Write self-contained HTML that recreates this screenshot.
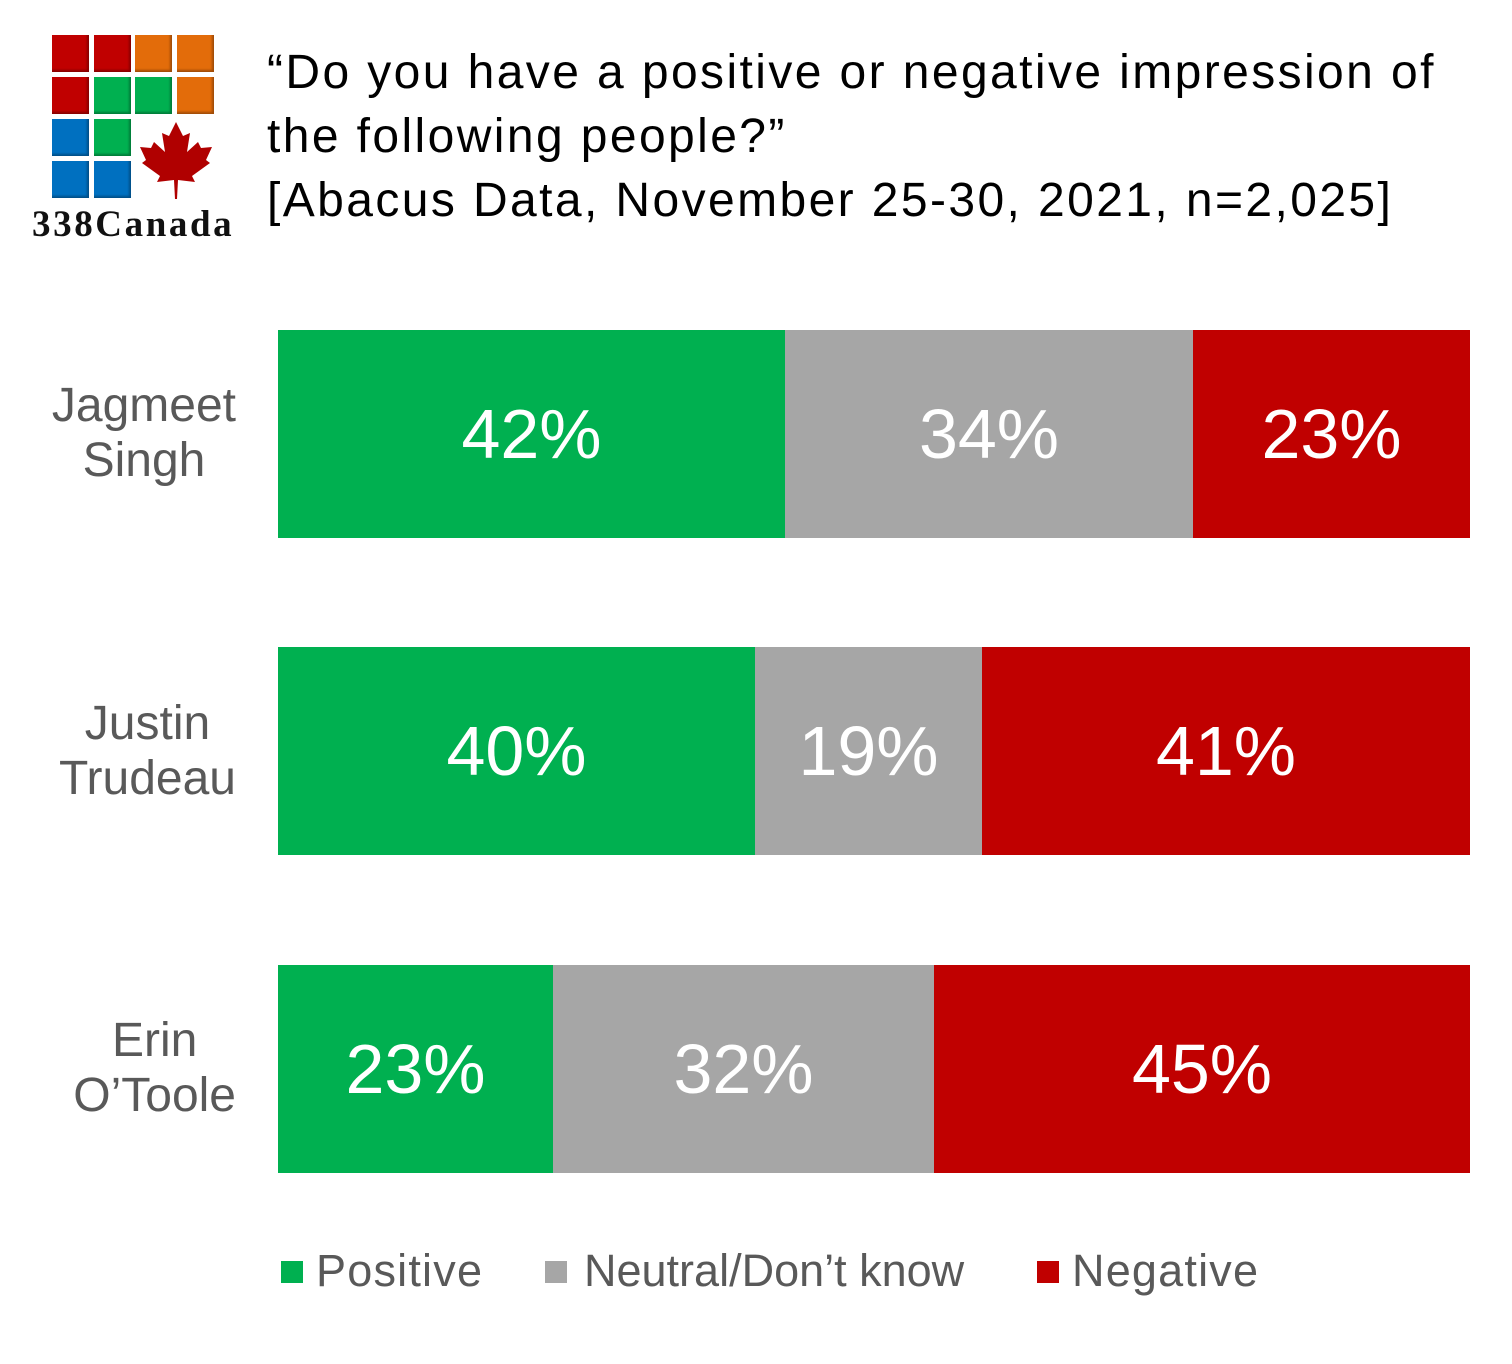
<!DOCTYPE html>
<html><head><meta charset="utf-8"><style>
body{margin:0;width:1512px;height:1364px;background:#fff;position:relative;overflow:hidden;font-family:"Liberation Sans",sans-serif}
.a{position:absolute}
.sq{position:absolute;width:37px;height:37px;box-shadow:inset -2px -2px 2px rgba(0,0,0,.3)}
.t{position:absolute;left:267px;font-size:48px;color:#000;line-height:64px;top:41px;white-space:nowrap;letter-spacing:2.4px}
.bar{position:absolute;height:208px;color:#fff;font-size:70px;display:flex;align-items:center;justify-content:center}
.nm{position:absolute;right:1276px;text-align:center;font-size:48px;color:#595959;line-height:55px}
.lg{position:absolute;top:1245px;font-size:45px;color:#595959}
.lb{position:absolute;top:1261px;width:22px;height:22px}
</style></head><body>
<div class="sq" style="left:52px;top:35px;background:#c00000"></div>
<div class="sq" style="left:94px;top:35px;background:#c00000"></div>
<div class="sq" style="left:135px;top:35px;background:#e36c0a"></div>
<div class="sq" style="left:177px;top:35px;background:#e36c0a"></div>
<div class="sq" style="left:52px;top:77px;background:#c00000"></div>
<div class="sq" style="left:94px;top:77px;background:#00b050"></div>
<div class="sq" style="left:135px;top:77px;background:#00b050"></div>
<div class="sq" style="left:177px;top:77px;background:#e36c0a"></div>
<div class="sq" style="left:52px;top:119px;background:#0070c0"></div>
<div class="sq" style="left:94px;top:119px;background:#00b050"></div>
<div class="sq" style="left:52px;top:161px;background:#0070c0"></div>
<div class="sq" style="left:94px;top:161px;background:#0070c0"></div>
<svg class="a" style="left:138px;top:120px" width="76" height="80" viewBox="0 0 76 80">
<path d="M38 2 L45 16 L52 13 L49 32 L60 22 L63 28 L74 27 L68 40 L72 43 L54 56 L57 62 L40 60 L39 79 L37 79 L36 60 L19 62 L22 56 L4 43 L8 40 L2 27 L13 28 L16 22 L27 32 L24 13 L31 16 Z" fill="#b00000"/></svg>
<div class="a" style="left:32px;top:203px;font-family:'Liberation Serif',serif;font-weight:bold;font-size:37px;letter-spacing:2.6px;color:#111">338Canada</div>
<div class="t">“Do you have a positive or negative impression of<br>the following people?”<br>[Abacus Data, November 25-30, 2021, n=2,025]</div>

<div class="nm" style="top:378px">Jagmeet<br>Singh</div>
<div class="bar" style="left:278px;top:330px;width:507px;background:#00b050">42%</div>
<div class="bar" style="left:785px;top:330px;width:408px;background:#a6a6a6">34%</div>
<div class="bar" style="left:1193px;top:330px;width:277px;background:#c00000">23%</div>

<div class="nm" style="top:696px">Justin<br>Trudeau</div>
<div class="bar" style="left:278px;top:647px;width:477px;background:#00b050">40%</div>
<div class="bar" style="left:755px;top:647px;width:227px;background:#a6a6a6">19%</div>
<div class="bar" style="left:982px;top:647px;width:488px;background:#c00000">41%</div>

<div class="nm" style="top:1013px">Erin<br>O’Toole</div>
<div class="bar" style="left:278px;top:965px;width:275px;background:#00b050">23%</div>
<div class="bar" style="left:553px;top:965px;width:381px;background:#a6a6a6">32%</div>
<div class="bar" style="left:934px;top:965px;width:536px;background:#c00000">45%</div>

<div class="lb" style="left:281px;background:#00b050"></div><div class="lg" style="left:316px;letter-spacing:1.2px">Positive</div>
<div class="lb" style="left:545px;background:#a6a6a6"></div><div class="lg" style="left:584px">Neutral/Don’t know</div>
<div class="lb" style="left:1037px;background:#c00000"></div><div class="lg" style="left:1072px;letter-spacing:1.2px">Negative</div>
</body></html>
